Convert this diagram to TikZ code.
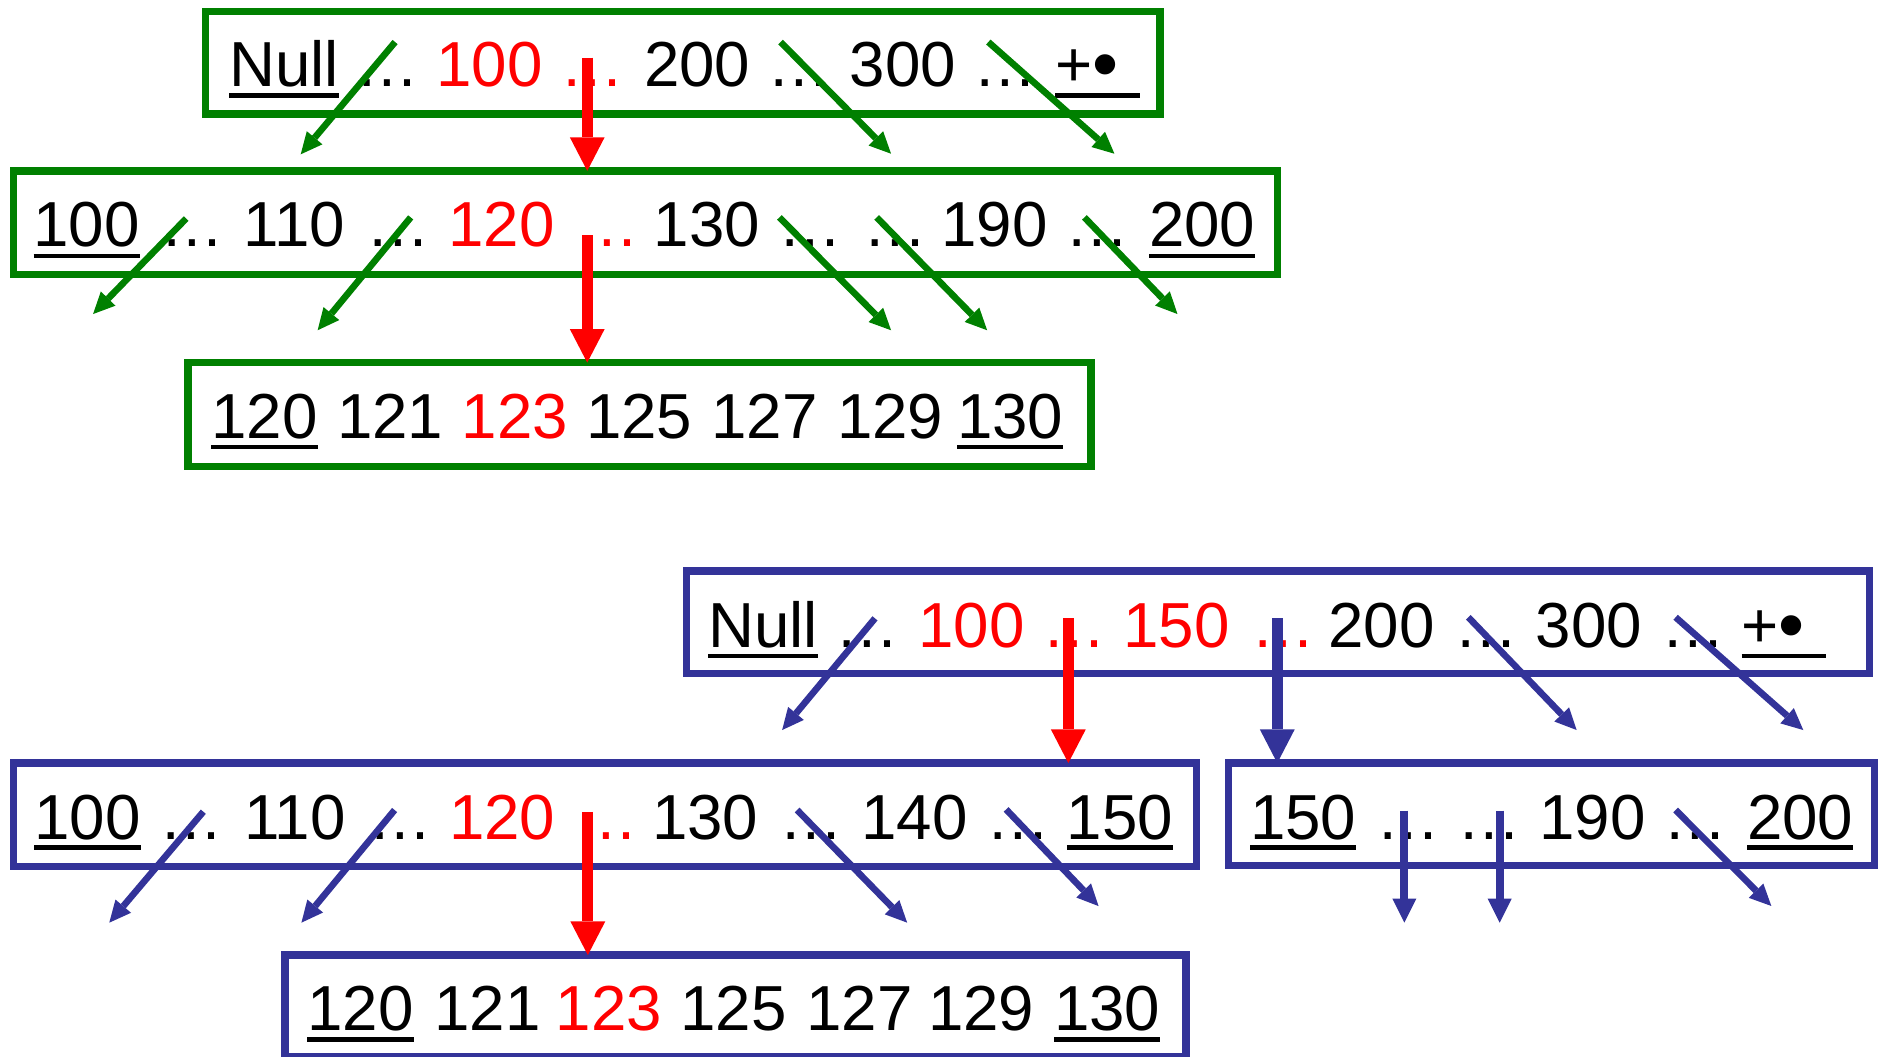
\documentclass[tikz,border=0pt]{standalone}
\usepackage{fontspec}
\setmainfont{Liberation Sans}
\usetikzlibrary{arrows.meta}
\definecolor{pgreen}{RGB}{0,128,0}
\definecolor{pblue}{RGB}{51,51,153}
\definecolor{pred}{RGB}{255,0,0}
\newcommand\tokfont{\fontsize{26.5pt}{30pt}\selectfont}
\newcommand\bigbul{{\fontsize{31pt}{30pt}\selectfont\raisebox{-1.35pt}{•}}}
\begin{document}
\begin{tikzpicture}[x=0.5pt,y=-0.5pt,
  tok/.style={inner sep=0pt,outer sep=0pt,anchor=base,font=\tokfont},
  rtok/.style={tok,text=pred},
  gbox/.style={draw=pgreen,line width=3pt,inner sep=0pt,outer sep=0pt},
  bbox/.style={draw=pblue,line width=3pt,inner sep=0pt,outer sep=0pt},
  uline/.style={line width=1.8pt},
  garrow/.style={draw=pgreen,line width=2.75pt,-{Triangle[length=9pt,width=8.5pt,line width=0pt]}},
  barrow/.style={draw=pblue,line width=2.75pt,-{Triangle[length=9pt,width=8.5pt,line width=0pt]}},
  bvarrow/.style={draw=pblue,line width=3.25pt,-{Triangle[length=10pt,width=10pt,line width=0pt]}},
  rarrow/.style={draw=pred,line width=4.5pt,-{Triangle[length=14pt,width=14.5pt,line width=0pt]}},
  bthick/.style={draw=pblue,line width=4.5pt,-{Triangle[length=14pt,width=14.5pt,line width=0pt]}}
]
\useasboundingbox (0,0) rectangle (1568,880);

% ---------- boxes ----------
\node[gbox,minimum width=397.5pt,minimum height=42.85pt] (G1) at (568.5,52.15) {};
\node[gbox,minimum width=526.5pt,minimum height=43pt] (G2) at (537.5,185.3) {};
\node[gbox,minimum width=376pt,minimum height=43.25pt] (G3) at (532.5,345.25) {};
\node[bbox,minimum width=492.65pt,minimum height=42.65pt] (B1) at (1064.35,518.15) {};
\node[bbox,minimum width=492.5pt,minimum height=43pt] (B2) at (503.8,678.4) {};
\node[bbox,minimum width=269.15pt,minimum height=42.8pt] (B3) at (1291.85,678.2) {};
\node[bbox,minimum width=375.15pt,minimum height=42.4pt] (B4) at (612.45,837.7) {};

% ---------- G1 text ----------
\node[tok]  (g1a) at (236.5,72) {Null};
\node[tok]  (g1b) at (322.5,72) {…};
\node[rtok] (g1c) at (407.7,72) {100};
\node[rtok] (g1d) at (493.5,72) {…};
\node[tok]  (g1e) at (580.5,72) {200};
\node[tok]  (g1f) at (665.5,72) {…};
\node[tok]  (g1g) at (752,72) {300};
\node[tok]  (g1h) at (837.5,72) {…};
\node[tok]  (g1i) at (905,72) {+\bigbul};
\draw[uline] ([yshift=-3.7pt]g1a.base west) -- ([yshift=-3.7pt]g1a.base east);
\draw[uline] ([yshift=-3.7pt]g1i.base west) -- ([xshift=8.8pt,yshift=-3.7pt]g1i.base east);

% ---------- G2 text ----------
\node[tok]  (g2a) at (72.2,205.5) {100};
\node[tok]  (g2b) at (160.5,205.5) {…};
\node[tok]  (g2c) at (245.2,205.5) {110};
\node[tok]  (g2d) at (331.5,205.5) {…};
\node[rtok] (g2e) at (417.7,205.5) {120};
\node[rtok] (g2f) at (505.5,205.5) {…};
\node[tok]  (g2g) at (588.7,205.5) {130};
\node[tok]  (g2h) at (675,205.5) {…};
\node[tok]  (g2i) at (745.5,205.5) {…};
\node[tok]  (g2j) at (828.2,205.5) {190};
\node[tok]  (g2k) at (913.5,205.5) {…};
\node[tok]  (g2l) at (1001,205.5) {200};
\draw[uline] ([yshift=-3.7pt]g2a.base west) -- ([yshift=-3.7pt]g2a.base east);
\draw[uline] ([yshift=-3.7pt]g2l.base west) -- ([yshift=-3.7pt]g2l.base east);

% ---------- G3 text ----------
\node[tok]  (g3a) at (220.2,365) {120};
\node[tok]  (g3b) at (325,365) {121};
\node[rtok] (g3c) at (428.7,365) {123};
\node[tok]  (g3d) at (532.2,365) {125};
\node[tok]  (g3e) at (636.7,365) {127};
\node[tok]  (g3f) at (741.2,365) {129};
\node[tok]  (g3g) at (841.2,365) {130};
\draw[uline] ([yshift=-3.7pt]g3a.base west) -- ([yshift=-3.7pt]g3a.base east);
\draw[uline] ([yshift=-3.7pt]g3g.base west) -- ([yshift=-3.7pt]g3g.base east);

% ---------- B1 text ----------
\node[tok]  (b1a) at (635.3,539) {Null};
\node[tok]  (b1b) at (722,539) {…};
\node[rtok] (b1c) at (808.9,539) {100};
\node[rtok] (b1d) at (894.5,539) {…};
\node[rtok] (b1e) at (979.7,539) {150};
\node[rtok] (b1f) at (1068.4,539) {…};
\node[tok]  (b1g) at (1150.5,539) {200};
\node[tok]  (b1h) at (1237.5,539) {…};
\node[tok]  (b1i) at (1323,539) {300};
\node[tok]  (b1j) at (1410,539) {…};
\node[tok]  (b1k) at (1476.5,539) {+\bigbul};
\draw[uline] ([yshift=-3.5pt]b1a.base west) -- ([yshift=-3.5pt]b1a.base east);
\draw[uline] ([yshift=-3.5pt]b1k.base west) -- ([xshift=9pt,yshift=-3.5pt]b1k.base east);

% ---------- B2 text ----------
\node[tok]  (b2a) at (72.9,699) {100};
\node[tok]  (b2b) at (159.3,699) {…};
\node[tok]  (b2c) at (245.5,699) {110};
\node[tok]  (b2d) at (333.5,699) {…};
\node[rtok] (b2e) at (418.2,699) {120};
\node[rtok] (b2f) at (504.5,699) {…};
\node[tok]  (b2g) at (587.2,699) {130};
\node[tok]  (b2h) at (675.5,699) {…};
\node[tok]  (b2i) at (761.6,699) {140};
\node[tok]  (b2j) at (848,699) {…};
\node[tok]  (b2k) at (932.6,699) {150};
\draw[uline] ([yshift=-3.3pt]b2a.base west) -- ([yshift=-3.3pt]b2a.base east);
\draw[uline] ([yshift=-3.3pt]b2k.base west) -- ([yshift=-3.3pt]b2k.base east);

% ---------- B3 text ----------
\node[tok]  (b3a) at (1085.2,699) {150};
\node[tok]  (b3b) at (1172.5,699) {…};
\node[tok]  (b3c) at (1240.5,699) {…};
\node[tok]  (b3d) at (1326.2,699) {190};
\node[tok]  (b3e) at (1412,699) {…};
\node[tok]  (b3f) at (1499,699) {200};
\draw[uline] ([yshift=-3.3pt]b3a.base west) -- ([yshift=-3.3pt]b3a.base east);
\draw[uline] ([yshift=-3.3pt]b3f.base west) -- ([yshift=-3.3pt]b3f.base east);

% ---------- B4 text ----------
\node[tok]  (b4a) at (300.2,858.3) {120};
\node[tok]  (b4b) at (406,858.3) {121};
\node[rtok] (b4c) at (507,858.3) {123};
\node[tok]  (b4d) at (610.7,858.3) {125};
\node[tok]  (b4e) at (715.7,858.3) {127};
\node[tok]  (b4f) at (817,858.3) {129};
\node[tok]  (b4g) at (921.9,858.3) {130};
\draw[uline] ([yshift=-3.65pt]b4a.base west) -- ([yshift=-3.65pt]b4a.base east);
\draw[uline] ([yshift=-3.65pt]b4g.base west) -- ([yshift=-3.65pt]b4g.base east);

% ---------- green arrows ----------
\draw[garrow] (329,35) coordinate (ga1s) -- (250.4,128.5) coordinate (ga1e);
\draw[garrow] (650,35) coordinate (ga2s) -- (742,128) coordinate (ga2e);
\draw[garrow] (823,35) coordinate (ga3s) -- (928,128) coordinate (ga3e);
\draw[garrow] (155,182) coordinate (ga4s) -- (77.5,261.5) coordinate (ga4e);
\draw[garrow] (342,181) coordinate (ga5s) -- (264.5,275) coordinate (ga5e);
\draw[garrow] (649,181) coordinate (ga6s) -- (742,275) coordinate (ga6e);
\draw[garrow] (730,181) coordinate (ga7s) -- (822,275) coordinate (ga7e);
\draw[garrow] (903,181) coordinate (ga8s) -- (980.5,261.5) coordinate (ga8e);
\draw[rarrow] (489,48) coordinate (r1s) -- (r1s |- G2.north);
\draw[rarrow] (489,196) coordinate (r2s) -- (r2s |- G3.north);

% ---------- blue arrows ----------
\draw[barrow] (728.6,514.9) coordinate (ba1s) -- (651.3,607.9) coordinate (ba1e);
\draw[barrow] (1222.7,514) coordinate (ba2s) -- (1312.9,607.9) coordinate (ba2e);
\draw[barrow] (1395.3,514) coordinate (ba3s) -- (1501.6,607.9) coordinate (ba3e);
\draw[barrow] (169.3,675.9) coordinate (ba4s) -- (91,768.3) coordinate (ba4e);
\draw[barrow] (328.6,674.5) coordinate (ba5s) -- (251,768.3) coordinate (ba5e);
\draw[barrow] (663.8,674.5) coordinate (ba6s) -- (755.4,768.3) coordinate (ba6e);
\draw[barrow] (837.8,674) coordinate (ba7s) -- (914.8,754.5) coordinate (ba7e);
\draw[barrow] (1395.3,674.5) coordinate (ba8s) -- (1475,754.4) coordinate (ba8e);
\draw[bvarrow] (1169.4,675) coordinate (bv1s) -- (1169.4,768.3) coordinate (bv1e);
\draw[bvarrow] (1248.8,675) coordinate (bv2s) -- (1248.8,768.3) coordinate (bv2e);
\draw[rarrow] (889.6,515) coordinate (r3s) -- (r3s |- B2.north);
\draw[bthick] (1063.6,515) coordinate (bt1s) -- (bt1s |- B3.north);
\draw[rarrow] (489.5,676) coordinate (r4s) -- (r4s |- B4.north);
\end{tikzpicture}
\end{document}
